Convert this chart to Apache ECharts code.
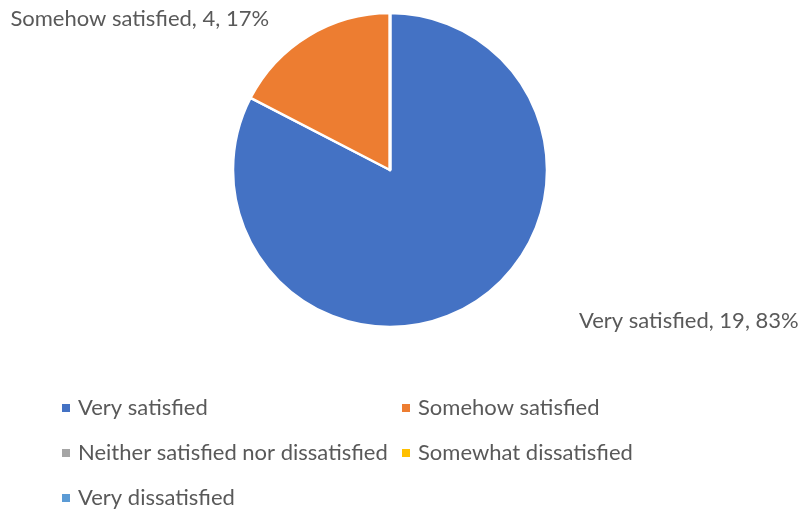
<!DOCTYPE html>
<html>
<head>
<meta charset="utf-8">
<script src="https://cdn.jsdelivr.net/npm/echarts@6/dist/echarts.min.js"></script>
<style>html,body{margin:0;padding:0;background:#fff}</style>
</head>
<body>
<div id="main" style="width:799px;height:512px;"></div>
<script>
const categories = ['Very satisfied', 'Somehow satisfied', 'Neither satisfied nor dissatisfied', 'Somewhat dissatisfied', 'Very dissatisfied'];
const counts = [19, 4, 0, 0, 0];
const colors = ['#4472C4', '#ED7D31', '#A5A5A5', '#FFC000', '#5B9BD5'];
const legendLeft = [categories[0], categories[2], categories[4]];
const legendRight = [categories[1], categories[3]];

const font = 'Lato, "Open Sans", sans-serif';
const textColor = '#595959';
const lineLen2 = [92, 24, 10, 10, 10];

const chart = echarts.init(document.getElementById('main'));

const legendBase = {
  orient: 'vertical',
  top: 396,
  padding: 0,
  itemWidth: 10,
  itemHeight: 10,
  itemGap: 21,
  icon: 'rect',
  textStyle: { color: textColor, fontFamily: font, fontSize: 22, lineHeight: 24, padding: [0, 0, 0, 2] }
};

const option = {
  color: colors,
  animation: false,
  legend: [
    Object.assign({}, legendBase, { left: 60, data: legendLeft }),
    Object.assign({}, legendBase, { left: 400, data: legendRight })
  ],
  series: [{
    type: 'pie',
    center: [390, 170],
    radius: [0, 157],
    startAngle: 90,
    clockwise: true,
    avoidLabelOverlap: false,
    itemStyle: { borderColor: '#fff', borderWidth: 2.5 },
    label: {
      position: 'outside',
      formatter: p => p.name + ', ' + p.value + ', ' + Math.round(p.percent) + '%',
      color: textColor,
      fontFamily: font,
      fontSize: 22
    },
    labelLine: { show: false, length: 20 },
    emphasis: { disabled: true },
    data: categories.map((name, i) => ({
      name: name,
      value: counts[i],
      label: { show: counts[i] > 0 },
      labelLine: { show: false, length: 20, length2: lineLen2[i] }
    }))
  }]
};

chart.setOption(option);
</script>
</body>
</html>
